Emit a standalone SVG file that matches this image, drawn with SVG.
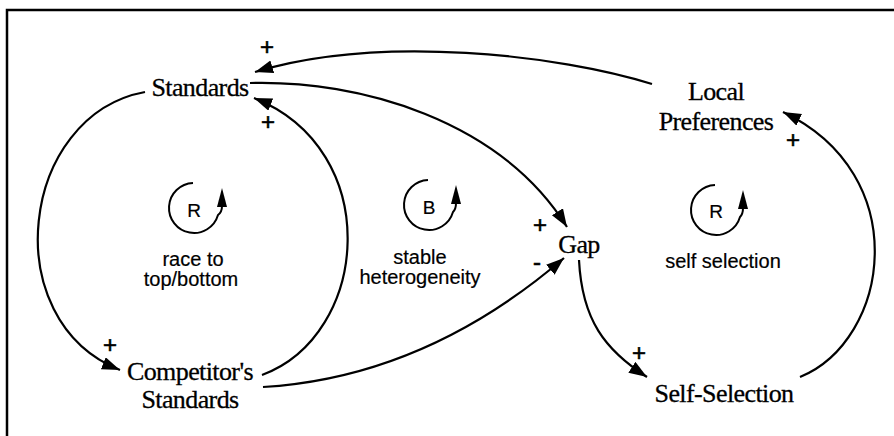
<svg xmlns="http://www.w3.org/2000/svg" width="894" height="436" viewBox="0 0 894 436">
<defs>
<style>
.node{font-family:"Liberation Serif","Times New Roman",serif;font-size:26px;fill:#000;stroke:#000;stroke-width:0.3;text-anchor:middle;letter-spacing:-0.6px}
.lbl{font-family:"Liberation Sans",Arial,sans-serif;font-size:20px;fill:#000;stroke:#000;stroke-width:0.2;text-anchor:middle}
.sign{font-family:"Liberation Sans",Arial,sans-serif;font-size:24px;fill:#000;stroke:#000;stroke-width:0.6;text-anchor:middle}
.loopl{font-family:"Liberation Sans",Arial,sans-serif;font-size:19px;fill:#000;stroke:#000;stroke-width:0.2;text-anchor:middle}
.edge{fill:none;stroke:#000;stroke-width:2.2}
.loop{fill:none;stroke:#000;stroke-width:2}
</style>
<marker id="ah" markerUnits="userSpaceOnUse" markerWidth="20" markerHeight="14" refX="18" refY="6.5" orient="auto">
<path d="M0,0 L18,6.5 L0,13 Z" fill="#000"/>
</marker>
</defs>
<rect width="894" height="436" fill="#fff"/>
<path d="M7,436 V10 H894" fill="none" stroke="#000" stroke-width="2.5"/>

<g id="connectors">
<path class="edge" d="M652,84 C560,55 380,34 255,72" marker-end="url(#ah)"/>
<path class="edge" d="M250,83 C360,80 500,120 567,227" marker-end="url(#ah)"/>
<path class="edge" d="M145,92 C20,115 -5,320 120,370" marker-end="url(#ah)"/>
<path class="edge" d="M262,375 C370,335 385,150 254,98" marker-end="url(#ah)"/>
<path class="edge" d="M263,387 C380,380 480,330 564,258" marker-end="url(#ah)"/>
<path class="edge" d="M579,260 C582,320 605,350 647,377" marker-end="url(#ah)"/>
<path class="edge" d="M800,377 C890,340 915,175 783,112" marker-end="url(#ah)"/>
</g>

<g id="node-standards"><text class="node" x="200" y="96">Standards</text></g>
<g id="node-local-preferences"><text class="node" x="716" y="100">Local</text><text class="node" x="716" y="130">Preferences</text></g>
<g id="node-gap"><text class="node" x="579" y="253">Gap</text></g>
<g id="node-competitors-standards"><text class="node" x="190" y="380">Competitor's</text><text class="node" x="190" y="408">Standards</text></g>
<g id="node-self-selection"><text class="node" x="724" y="402">Self-Selection</text></g>

<g id="polarities">
<text class="sign" x="267" y="55">+</text>
<text class="sign" x="268" y="130">+</text>
<text class="sign" x="793" y="148">+</text>
<text class="sign" x="540" y="233">+</text>
<text class="sign" x="537" y="270">-</text>
<text class="sign" x="110" y="353">+</text>
<text class="sign" x="639" y="361">+</text>
</g>

<g id="loop-race">
<path class="loop" d="M193,183 A25,25 0 1 0 218,215 Q222,212 222,206"/>
<path d="M222,188 L227,207 L217,207 Z" fill="#000"/>
<text class="loopl" x="194" y="217">R</text>
<text class="lbl" x="193" y="266">race to</text>
<text class="lbl" x="191" y="286">top/bottom</text>
</g>

<g id="loop-stable">
<path class="loop" d="M428,180 A25,25 0 1 0 453,212 Q456,209 456,203"/>
<path d="M456,185 L461,204 L451,204 Z" fill="#000"/>
<text class="loopl" x="429" y="214">B</text>
<text class="lbl" x="420" y="264">stable</text>
<text class="lbl" x="420" y="284">heterogeneity</text>
</g>

<g id="loop-self">
<path class="loop" d="M715,185 A25,25 0 1 0 740,217 Q743,214 743,208"/>
<path d="M743,190 L748,209 L738,209 Z" fill="#000"/>
<text class="loopl" x="716" y="218">R</text>
<text class="lbl" x="723" y="268">self selection</text>
</g>
</svg>
